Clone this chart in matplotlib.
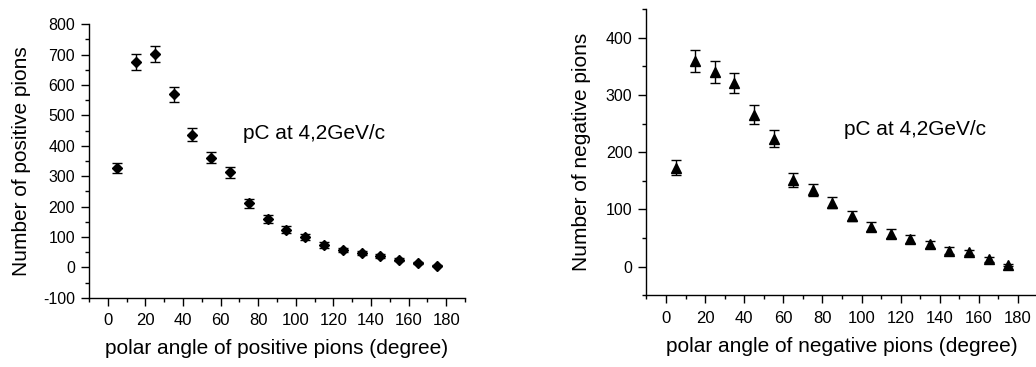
import matplotlib
matplotlib.use("Agg")
import matplotlib.pyplot as plt
from matplotlib.ticker import MultipleLocator

plt.rcParams['font.family'] = ['Liberation Sans', 'DejaVu Sans']
plt.rcParams['axes.unicode_minus'] = False

# polar angle bins (degree), same for both panels
angles = [5, 15, 25, 35, 45, 55, 65, 75, 85, 95, 105, 115, 125, 135, 145, 155, 165, 175]

# positive pions
pos_counts = [327, 676, 703, 569, 436, 360, 313, 211, 160, 124, 99, 74, 57, 46, 37, 25, 15, 5]
pos_errors = [16, 26, 27, 24, 21, 18, 18, 15, 13, 11, 10, 9, 8, 7, 6, 5, 4, 2]

# negative pions
neg_counts = [173, 359, 341, 321, 266, 224, 152, 134, 112, 89, 70, 58, 48, 39, 28, 25, 13, 3]
neg_errors = [13, 19, 19, 18, 16, 15, 12, 11, 10, 9, 8, 8, 7, 6, 6, 5, 4, 2]

x_ticks = [0, 20, 40, 60, 80, 100, 120, 140, 160, 180]
note = "pC at 4,2GeV/c"


def style_axes(ax):
    # only left and bottom spines, ticks pointing out
    ax.spines['top'].set_visible(False)
    ax.spines['right'].set_visible(False)
    for side in ('left', 'bottom'):
        ax.spines[side].set_linewidth(1.0)
    ax.set_xlim(-10, 190)
    ax.set_xticks(x_ticks)
    ax.xaxis.set_minor_locator(MultipleLocator(10))
    ax.yaxis.set_minor_locator(MultipleLocator(50))
    ax.tick_params(which='major', direction='out', length=6, width=1.0,
                   colors='black')
    ax.tick_params(which='minor', direction='out', length=3, width=1.0)
    ax.tick_params(axis='x', which='major', pad=5, labelsize=12)
    ax.tick_params(axis='y', which='major', pad=4, labelsize=11.5)


fig = plt.figure(figsize=(10.36, 3.67), dpi=100)

# left panel: positive pions
ax1 = fig.add_axes([0.0859, 0.1888, 0.3629, 0.745])
ax1.errorbar(angles, pos_counts, yerr=pos_errors, fmt='D', color='black',
             markersize=5.6, elinewidth=1.0, capsize=3.5, capthick=1.0)
style_axes(ax1)
ax1.set_ylim(-100, 800)
ax1.set_yticks(range(-100, 801, 100))
ax1.set_xlabel("polar angle of positive pions (degree)", fontsize=15, labelpad=8)
ax1.set_ylabel("Number of positive pions", fontsize=15, labelpad=9)
ax1.text(72, 440, note, fontsize=15, va='center', ha='left')

# right panel: negative pions
ax2 = fig.add_axes([0.624, 0.1954, 0.3774, 0.7793])
ax2.errorbar(angles, neg_counts, yerr=neg_errors, fmt='^', color='black',
             markersize=7.5, elinewidth=1.0, capsize=3.8, capthick=1.0)
style_axes(ax2)
ax2.set_ylim(-50, 450)
ax2.set_yticks([0, 100, 200, 300, 400])
ax2.set_xlabel("polar angle of negative pions (degree)", fontsize=15, labelpad=8)
ax2.set_ylabel("Number of negative pions", fontsize=15, labelpad=11)
ax2.text(91, 240, note, fontsize=15, va='center', ha='left')

fig.savefig("out.png", dpi=100)
